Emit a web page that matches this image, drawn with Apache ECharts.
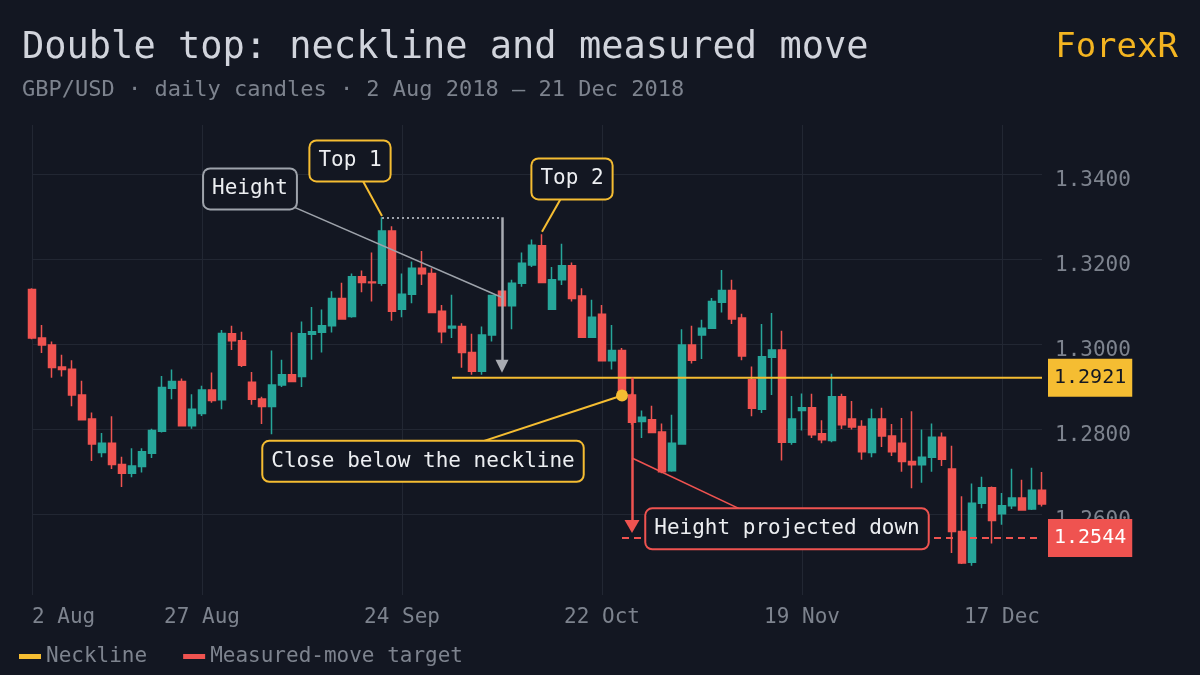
<!DOCTYPE html>
<html><head><meta charset="utf-8">
<script src="https://cdn.jsdelivr.net/npm/echarts@6/dist/echarts.min.js"></script>
<style>html,body{margin:0;padding:0;background:#131722}#c{width:1200px;height:675px}</style>
</head><body><div id="c"></div>
<script>
// ---------- data ----------
const aug = [2,3,6,7,8,9,10,13,14,15,16,17,20,21,22,23,24,27,28,29,30,31];
const sep = [3,4,5,6,7,10,11,12,13,14,17,18,19,20,21,24,25,26,27,28];
const oct = [1,2,3,4,5,8,9,10,11,12,15,16,17,18,19,22,23,24,25,26,29,30,31];
const nov = [1,2,5,6,7,8,9,12,13,14,15,16,19,20,21,22,23,26,27,28,29,30];
const dec = [3,4,5,6,7,10,11,12,13,14,17,18,19,20,21];
const dates = [].concat(
  aug.map(d => d + ' Aug'), sep.map(d => d + ' Sep'), oct.map(d => d + ' Oct'),
  nov.map(d => d + ' Nov'), dec.map(d => d + ' Dec'));
const tickLabels = ['2 Aug', '27 Aug', '24 Sep', '22 Oct', '19 Nov', '17 Dec'];

// [open, close, low, high]
const candles = [
[1.3128,1.3014,1.3011,1.3131],[1.3014,1.2998,1.2979,1.3045],[1.2998,1.2945,1.2921,1.3006],[1.2946,1.2940,1.2924,1.2975],
[1.2941,1.2880,1.2854,1.2962],[1.2880,1.2822,1.2821,1.2914],[1.2824,1.2765,1.2725,1.2839],[1.2745,1.2767,1.2734,1.2791],
[1.2767,1.2717,1.2706,1.2830],[1.2717,1.2696,1.2664,1.2735],[1.2696,1.2713,1.2687,1.2755],[1.2712,1.2747,1.2698,1.2755],
[1.2743,1.2797,1.2732,1.2801],[1.2795,1.2898,1.2792,1.2925],[1.2896,1.2912,1.2870,1.2940],[1.2912,1.2808,1.2806,1.2919],
[1.2808,1.2847,1.2801,1.2882],[1.2837,1.2892,1.2831,1.2902],[1.2892,1.2867,1.2862,1.2933],[1.2869,1.3025,1.2847,1.3033],
[1.3024,1.3008,1.2986,1.3043],[1.3008,1.2950,1.2946,1.3029],[1.2910,1.2870,1.2857,1.2934],[1.2871,1.2853,1.2812,1.2876],
[1.2853,1.2904,1.2788,1.2985],[1.2904,1.2928,1.2899,1.2963],[1.2928,1.2912,1.2910,1.3028],[1.2924,1.3024,1.2899,1.3053],
[1.3023,1.3029,1.2963,1.3087],[1.3028,1.3043,1.2980,1.3081],[1.3043,1.3107,1.3027,1.3124],[1.3107,1.3059,1.3057,1.3144],
[1.3065,1.3158,1.3062,1.3166],[1.3158,1.3145,1.3122,1.3173],[1.3146,1.3144,1.3100,1.3215],[1.3143,1.3266,1.3137,1.3298],
[1.3266,1.3077,1.3055,1.3277],[1.3082,1.3117,1.3063,1.3166],[1.3117,1.3178,1.3096,1.3194],[1.3178,1.3165,1.3139,1.3219],
[1.3166,1.3074,1.3074,1.3178],[1.3077,1.3029,1.3002,1.3092],[1.3038,1.3042,1.3014,1.3116],[1.3041,1.2980,1.2944,1.3049],
[1.2980,1.2936,1.2928,1.3024],[1.2936,1.3021,1.2928,1.3041],[1.3021,1.3114,1.3006,1.3114],[1.3124,1.3090,1.3088,1.3126],
[1.3090,1.3143,1.3035,1.3151],[1.3143,1.3190,1.3135,1.3215],[1.3186,1.3232,1.3181,1.3246],[1.3231,1.3145,1.3145,1.3258],
[1.3082,1.3151,1.3082,1.3181],[1.3151,1.3184,1.3139,1.3236],[1.3184,1.3107,1.3100,1.3192],[1.3113,1.3016,1.3016,1.3131],
[1.3016,1.3063,1.3014,1.3104],[1.3070,1.2961,1.2959,1.3092],[1.2961,1.2985,1.2940,1.3045],[1.2985,1.2879,1.2877,1.2991],
[1.2880,1.2816,1.2810,1.2884],[1.2818,1.2828,1.2779,1.2844],[1.2822,1.2792,1.2792,1.2855],[1.2793,1.2700,1.2696,1.2813],
[1.2702,1.2767,1.2700,1.2834],[1.2765,1.2998,1.2763,1.3035],[1.2998,1.2962,1.2954,1.3043],[1.3021,1.3037,1.2965,1.3057],
[1.3037,1.3100,1.3037,1.3108],[1.3098,1.3126,1.3074,1.3174],[1.3126,1.3059,1.3047,1.3151],[1.3061,1.2972,1.2962,1.3071],
[1.2916,1.2849,1.2830,1.2947],[1.2847,1.2970,1.2838,1.3047],[1.2969,1.2986,1.2880,1.3073],[1.2986,1.2769,1.2726,1.3031],
[1.2769,1.2824,1.2763,1.2878],[1.2844,1.2850,1.2797,1.2884],[1.2850,1.2787,1.2779,1.2883],[1.2789,1.2775,1.2767,1.2821],
[1.2773,1.2876,1.2769,1.2930],[1.2876,1.2810,1.2800,1.2883],[1.2824,1.2805,1.2799,1.2866],[1.2806,1.2747,1.2728,1.2821],
[1.2745,1.2824,1.2734,1.2848],[1.2824,1.2784,1.2758,1.2850],[1.2784,1.2747,1.2737,1.2812],[1.2767,1.2724,1.2700,1.2826],
[1.2724,1.2716,1.2661,1.2842],[1.2716,1.2734,1.2674,1.2799],[1.2734,1.2781,1.2700,1.2813],[1.2781,1.2729,1.2713,1.2792],
[1.2706,1.2559,1.2509,1.2761],[1.2559,1.2485,1.2483,1.2642],[1.2487,1.2626,1.2479,1.2672],[1.2626,1.2662,1.2614,1.2688],
[1.2662,1.2585,1.2531,1.2665],[1.2601,1.2620,1.2575,1.2650],[1.2620,1.2638,1.2612,1.2707],[1.2638,1.2610,1.2610,1.2681],
[1.2612,1.2656,1.2610,1.2709],[1.2656,1.2624,1.2618,1.2699]
];

const NECK = 1.2921;          // neckline level
const TARGET = 1.2544;        // measured-move target
const TOP1 = 1.3298;          // top 1 high (height reference)
const necklineSpan = [42, 101];
const targetSpan = [59, 101];
const breakIdx = 59, breakClose = 1.2879;    // close below neckline
const heightSpan = [35, 47];                 // dotted height line (x indices)
const heightArrowEnd = 1.2948;               // gray arrow head position
const projectIdx = 60, projectArrowEnd = 1.2571;

// annotation boxes: [x index, price, text, colour key, x nudge px]
const notes = [
  [32, 1.34306, 'Top 1', 'y', -2],
  [54, 1.33882, 'Top 2', 'y', 0],
  [22, 1.33647, 'Height', 'g', -2],
  [39, 1.27242, 'Close below the neckline', 'y', 1],
  [76, 1.25655, 'Height projected down', 'r', -5]
];
// connectors: [from x, from price, to x, to price, colour key]
const connectors = [
  [32, 1.34306, 35, 1.3301, 'y'],
  [54, 1.33882, 51, 1.3264, 'y'],
  [22, 1.33647, 47, 1.31095, 'g'],
  [39, 1.27242, 59, 1.2879, 'y'],
  [75, 1.25655, 60, 1.2732, 'r']
];

// ---------- style ----------
const MONO = "'DejaVu Sans Mono', 'Liberation Mono', monospace";
const BG = '#131722', GRID = '#222733', TXT = '#d1d4dc', MUTED = '#7d838e';
const YEL = '#f5bd32', RED = '#ef5350', GRN = '#26a69a', GRAY = '#9ea3ab';
const COL = {y: YEL, r: RED, g: GRAY};

const chart = echarts.init(document.getElementById('c'));

const guideLines = [
  [{coord: [heightSpan[0], TOP1], symbol: 'none', lineStyle: {color: GRAY, width: 2, type: [2, 3]}},
   {coord: [heightSpan[1], TOP1], symbol: 'none'}],
  [{coord: [heightSpan[1], TOP1], symbol: 'none', lineStyle: {color: '#a8abb2', width: 2.5, type: 'solid'}},
   {coord: [heightSpan[1], heightArrowEnd], symbol: 'triangle', symbolSize: [13, 13]}],
  [{coord: [projectIdx, NECK], symbol: 'none', lineStyle: {color: RED, width: 2.5, type: 'solid'}},
   {coord: [projectIdx, projectArrowEnd], symbol: 'triangle', symbolSize: [15, 13]}]
].concat(connectors.map(c => [
  {coord: [c[0], c[1]], symbol: 'none', lineStyle: {color: COL[c[4]], width: c[4] === 'y' ? 2 : 1.5, type: 'solid'}},
  {coord: [c[2], c[3]], symbol: 'none'}
]));

const option = {
  backgroundColor: BG,
  animation: false,
  textStyle: {fontFamily: MONO},
  title: [
    {text: 'Double top: neckline and measured move', left: 17, top: 25,
     textStyle: {color: TXT, fontSize: 37, fontWeight: 'normal', fontFamily: MONO}},
    {text: 'GBP/USD · daily candles · 2 Aug 2018 – 21 Dec 2018', left: 17, top: 74,
     textStyle: {color: MUTED, fontSize: 22, fontWeight: 'normal', fontFamily: MONO}},
    {text: 'ForexR', right: 17, top: 26,
     textStyle: {color: '#f4b521', fontSize: 34, fontWeight: 'normal', fontFamily: MONO}}
  ],
  legend: {
    left: 14, top: 641, itemWidth: 22, itemHeight: 5, itemGap: 36,
    textStyle: {color: MUTED, fontSize: 21, fontFamily: MONO},
    data: [{name: 'Neckline', icon: 'rect'}, {name: 'Measured-move target', icon: 'rect'}]
  },
  grid: {left: 32, right: 158, top: 125, bottom: 80},
  xAxis: {
    type: 'category', data: dates, boundaryGap: false,
    axisLine: {show: false}, axisTick: {show: false},
    axisLabel: {interval: (i, v) => tickLabels.includes(v), color: MUTED, fontSize: 21,
                fontFamily: MONO, margin: 12, alignMinLabel: 'left'},
    splitLine: {show: true, interval: (i, v) => tickLabels.includes(v), lineStyle: {color: GRID, width: 1}}
  },
  yAxis: {
    type: 'value', position: 'right', min: 1.241, max: 1.3515,
    axisLine: {show: false}, axisTick: {show: false},
    axisLabel: {color: MUTED, fontSize: 21, fontFamily: MONO, margin: 13,
                formatter: v => v.toFixed(4), showMinLabel: false, showMaxLabel: false,
                verticalAlign: 'top', lineHeight: 13},
    splitLine: {lineStyle: {color: ['rgba(0,0,0,0)', GRID, GRID, GRID, GRID, GRID, 'rgba(0,0,0,0)']}}
  },
  series: [
    {
      type: 'candlestick', name: 'GBP/USD', data: candles, barWidth: 7, clip: false, silent: true, z: 2,
      itemStyle: {color: GRN, color0: RED, borderColor: GRN, borderColor0: RED, borderWidth: 1.5}
    },
    {
      type: 'line', name: 'Neckline', color: YEL, symbol: 'none', silent: true, z: 3, clip: false,
      data: [[necklineSpan[0], NECK], [necklineSpan[1], NECK]],
      lineStyle: {color: YEL, width: 2},
      endLabel: {show: true, formatter: NECK.toFixed(4), backgroundColor: YEL, color: '#131722',
                 fontSize: 20, fontFamily: MONO, padding: [9, 6, 9, 6], distance: 6}
    },
    {
      type: 'line', name: 'Measured-move target', color: RED, symbol: 'none', silent: true, z: 3, clip: false,
      data: [[targetSpan[0], TARGET], [targetSpan[1], TARGET]],
      lineStyle: {color: RED, width: 2, type: [7, 5]},
      endLabel: {show: true, formatter: TARGET.toFixed(4), backgroundColor: RED, color: '#ffffff',
                 fontSize: 20, fontFamily: MONO, padding: [9, 6, 9, 6], distance: 6}
    },
    {
      type: 'scatter', name: 'break', data: [[breakIdx, breakClose]], symbolSize: 12, silent: true,
      itemStyle: {color: YEL, opacity: 1}, z: 6,
      markLine: {silent: true, symbol: 'none', label: {show: false}, data: guideLines}
    },
    {
      type: 'scatter', name: 'notes', symbolSize: 0, silent: true, z: 10,
      itemStyle: {opacity: 1},
      data: notes.map(n => ({value: [n[0], n[1]], name: n[2],
                             label: {borderColor: COL[n[3]], offset: [n[4], 0]}})),
      label: {show: true, position: 'inside', formatter: p => p.name, color: '#eceef1',
              fontSize: 21, fontFamily: MONO, backgroundColor: BG, borderWidth: 2, borderRadius: 6,
              padding: [9, 8, 9, 8], opacity: 1}
    }
  ]
};
chart.setOption(option);
</script></body></html>
